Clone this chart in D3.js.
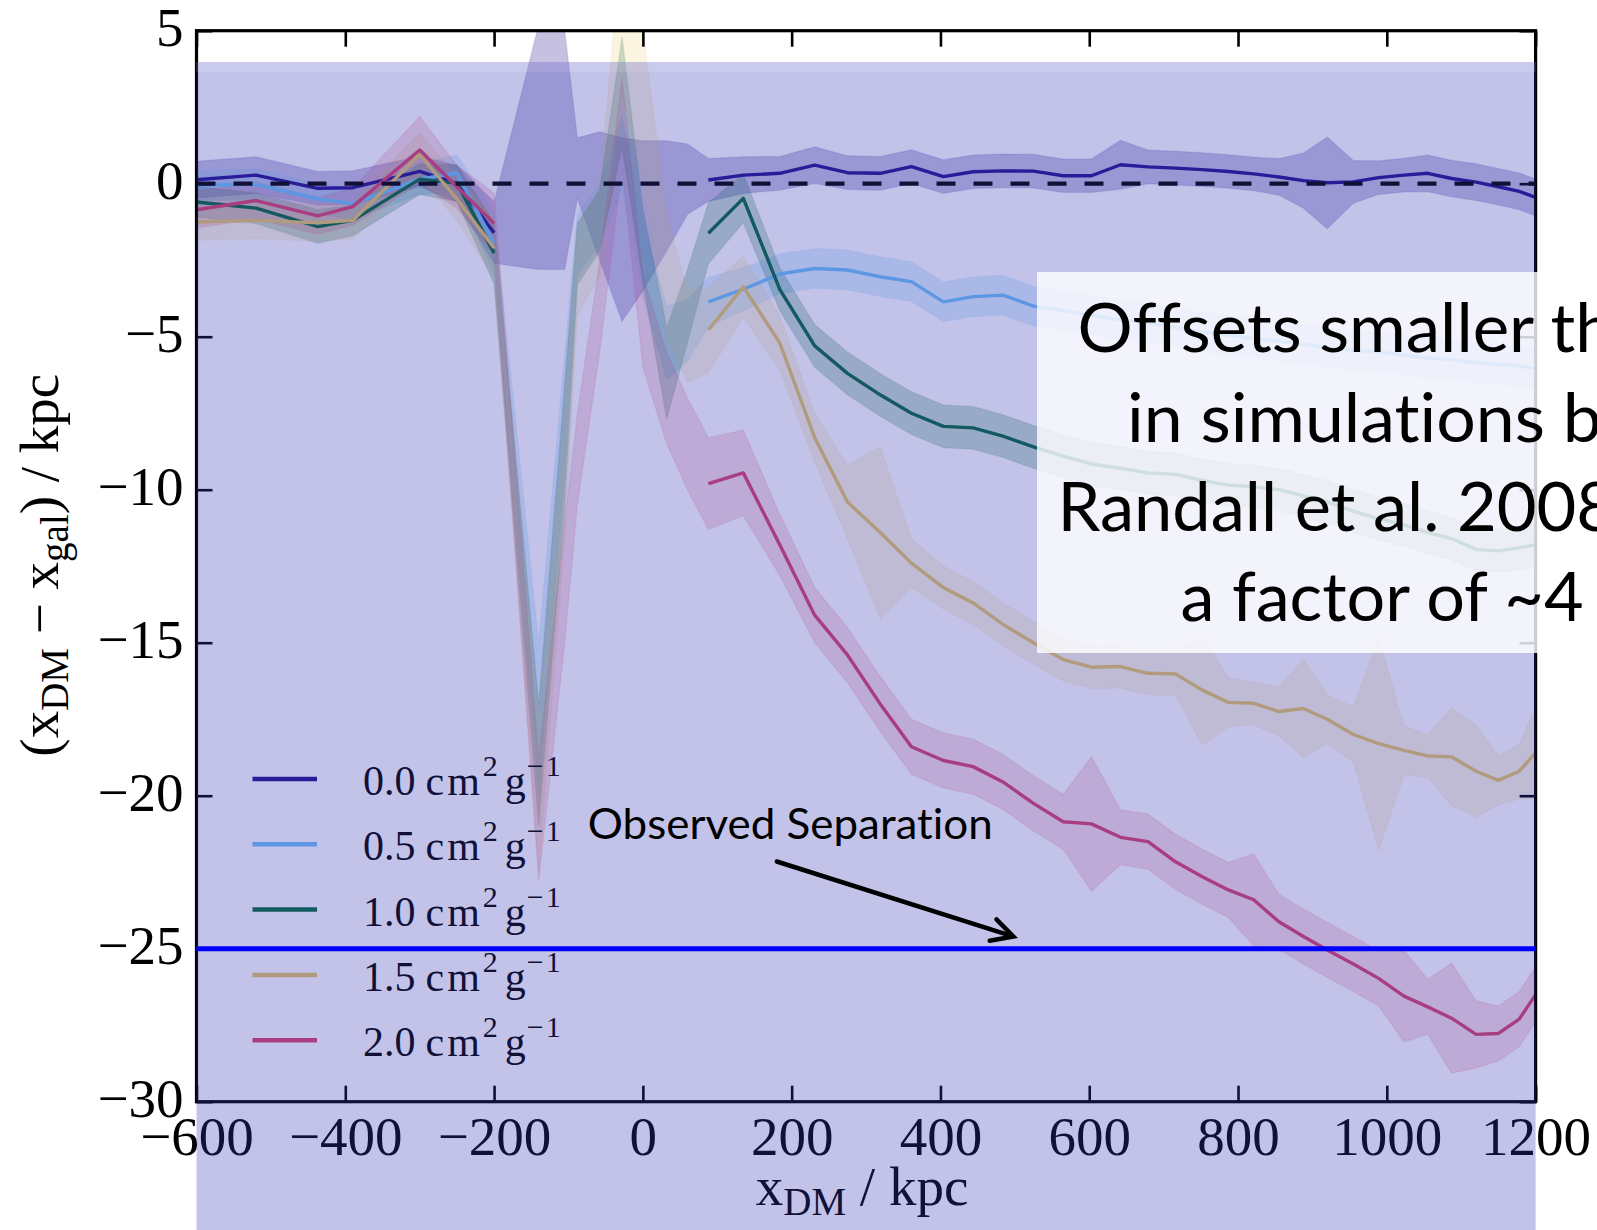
<!DOCTYPE html>
<html>
<head>
<meta charset="utf-8">
<script src="https://cdn.jsdelivr.net/npm/d3@7"></script>
<style>
  html, body { margin: 0; padding: 0; background: #fff; }
  svg { display: block; }
  text { font-variant-ligatures: none; font-feature-settings: "liga" 0, "clig" 0; }
</style>
</head>
<body>
<svg id="chart" width="1597" height="1230"></svg>
<script>
// ---------------------------------------------------------------
// Offset between dark matter and galaxy centroids vs. DM position
// ---------------------------------------------------------------

// DM position of each snapshot (kpc)
const xDM = [-600, -520, -437, -390, -300, -250, -200,
             -140, -105, -88, -58, -28, 0, 32, 60,
             88, 135, 184, 231, 275, 319, 361, 404, 444, 484,
             525, 565, 603, 642, 679, 716, 752, 787, 821, 855,
             888, 920, 955, 989, 1023, 1055, 1087, 1120, 1150, 1178, 1200];

// centre lines are not drawn between these two positions (only the bands)
const lineGap = [-200, 88];

const crossSections = ["0.0", "0.5", "1.0", "1.5", "2.0"];

// mean offset (kpc) for each cross-section
const offset00 = [0.13, 0.28, -0.15, -0.13, 0.4, 0.0, -1.6,
  1.2, 1.1, 0.5, -0.4, -1.5, -1.05, -0.4, 0.15,
  0.12, 0.28, 0.34, 0.61, 0.36, 0.34, 0.56, 0.23, 0.39, 0.42,
  0.41, 0.26, 0.26, 0.62, 0.55, 0.51, 0.46, 0.40, 0.32, 0.22,
  0.10, 0.03, 0.06, 0.20, 0.28, 0.34, 0.17, 0.05, -0.10, -0.25, -0.45];
const offset05 = [-0.05, -0.02, -0.5, -0.65, 0.15, 0.35, -1.95,
  -17.5, -7.5, -2.0, -1.0, 1.0, -2.5, -5.2, -4.8,
  -3.86, -3.45, -2.95, -2.77, -2.82, -3.04, -3.2, -3.86, -3.69, -3.64,
  -4.0, -4.15, -4.3, -4.45, -4.55, -4.7, -4.85, -4.95, -5.05, -5.15,
  -5.25, -5.35, -5.45, -5.5, -5.6, -5.7, -5.75, -5.85, -5.9, -5.95, -6.05];
const offset10 = [-0.6, -0.8, -1.4, -1.2, 0.15, 0.02, -2.27,
  -19.0, -8.5, -2.3, -1.2, 3.0, -2.0, -6.2, -4.0,
  -1.62, -0.48, -3.45, -5.3, -6.2, -6.9, -7.5, -7.93, -7.98, -8.25,
  -8.6, -8.9, -9.16, -9.3, -9.45, -9.5, -9.7, -9.85, -9.9, -10.0,
  -10.2, -10.4, -10.7, -10.95, -11.15, -11.4, -11.6, -11.95, -12.0, -11.9, -11.8];
const offset15 = [-1.25, -1.2, -1.28, -1.2, 0.95, -0.5, -2.1,
  -20.0, -9.5, -2.8, -1.5, 5.5, 2.5, -3.0, -5.0,
  -4.78, -3.37, -5.2, -8.3, -10.4, -11.4, -12.4, -13.2, -13.7, -14.4,
  -15.0, -15.55, -15.8, -15.78, -16.0, -16.02, -16.55, -16.95, -16.98, -17.25,
  -17.15, -17.5, -18.0, -18.3, -18.52, -18.7, -18.73, -19.2, -19.5, -19.2, -18.6];
const offset20 = [-0.85, -0.55, -1.05, -0.75, 1.1, -0.1, -1.3,
  -20.8, -13.0, -9.0, -4.0, 2.0, -4.5, -7.0, -8.5,
  -9.8, -9.45, -11.8, -14.1, -15.4, -17.0, -18.4, -18.85, -19.05, -19.55,
  -20.25, -20.85, -20.92, -21.36, -21.5, -22.16, -22.65, -23.08, -23.4, -24.12,
  -24.6, -25.04, -25.5, -25.97, -26.55, -26.9, -27.27, -27.8, -27.77, -27.3, -26.5];

// half-width of the scatter band (kpc)
const spread00 = [0.6, 0.6, 0.55, 0.55, 0.5, 0.6, 1.0,
  4.0, 3.9, 1.0, 2.1, 3.0, 2.45, 1.8, 1.15,
  0.7, 0.6, 0.55, 0.6, 0.55, 0.55, 0.55, 0.55, 0.55, 0.55,
  0.55, 0.55, 0.55, 0.8, 0.55, 0.55, 0.55, 0.55, 0.55, 0.6,
  0.9, 1.5, 0.7, 0.55, 0.55, 0.6, 0.6, 0.6, 0.6, 0.6, 0.6];
const spread05 = [0.5, 0.5, 0.5, 0.5, 0.5, 0.6, 1.0,
  2.5, 2.0, 1.0, 1.0, 1.2, 1.2, 1.2, 1.0,
  0.8, 0.7, 0.65, 0.65, 0.65, 0.65, 0.65, 0.65, 0.65, 0.65,
  0.65, 0.65, 0.65, 0.65, 0.65, 0.65, 0.65, 0.65, 0.65, 0.65,
  0.65, 0.65, 0.65, 0.65, 0.65, 0.65, 0.65, 0.65, 0.65, 0.65, 0.65];
const spread10 = [0.5, 0.5, 0.55, 0.5, 0.5, 0.6, 1.0,
  2.0, 2.0, 1.0, 1.0, 1.8, 1.2, 1.5, 1.2,
  1.0, 0.8, 0.7, 0.7, 0.7, 0.7, 0.7, 0.7, 0.7, 0.7,
  0.7, 0.7, 0.7, 0.7, 0.7, 0.7, 0.7, 0.7, 0.7, 0.7,
  0.7, 0.7, 0.7, 0.7, 0.7, 0.7, 0.7, 0.7, 0.7, 0.7, 0.7];
const spread15 = [0.6, 0.6, 0.6, 0.6, 0.7, 0.7, 1.0,
  2.5, 2.0, 1.5, 1.5, 2.5, 2.5, 2.0, 1.5,
  1.4, 1.0, 0.9, 0.8, 1.2, 2.8, 0.8, 0.7, 0.7, 0.7,
  0.7, 0.7, 0.7, 0.7, 0.7, 0.7, 1.8, 0.8, 0.7, 0.8,
  1.6, 0.8, 0.9, 3.5, 0.8, 0.7, 1.6, 1.5, 0.8, 0.9, 1.5];
const spread20 = [0.6, 0.6, 0.6, 0.6, 1.1, 0.7, 1.0,
  2.0, 2.0, 1.5, 1.5, 1.5, 1.5, 1.5, 1.5,
  1.5, 1.4, 1.0, 0.9, 0.9, 0.9, 0.9, 0.9, 0.9, 0.9,
  0.9, 0.9, 2.2, 0.9, 0.9, 0.9, 0.9, 0.9, 1.5, 0.9,
  0.9, 0.9, 0.9, 0.9, 1.5, 0.9, 1.8, 1.1, 0.9, 0.9, 0.9];

const lineColors = ["#22108c", "#6ec0f5", "#04683a", "#e6c665", "#d8406a"];
const bandOpacity = [0.26, 0.24, 0.24, 0.2, 0.19];

const xTicks = [-600, -400, -200, 0, 200, 400, 600, 800, 1000, 1200];
const yTicks = [5, 0, -5, -10, -15, -20, -25, -30];

const observedSeparation = -25;

const noteLines = ["Offsets smaller than", "in simulations by", "Randall et al. 2008 by", "a factor of ~4"];

// ---------------------------------------------------------------
const W = 1597, H = 1230;
const frame = { left: 196.5, right: 1535.6, top: 30.7, bottom: 1101.7 };
const serif = "'Liberation Serif', 'Times New Roman', serif";
const sans = "Lato, 'Open Sans', sans-serif";

const x = d3.scaleLinear().domain([-600, 1200]).range([frame.left, frame.right]);
const y = d3.scaleLinear().domain([-30, 5]).range([frame.bottom, frame.top]);

const svg = d3.select("#chart");
svg.append("rect").attr("width", W).attr("height", H).attr("fill", "#fff");

const defs = svg.append("defs");
defs.append("clipPath").attr("id", "plotClip")
  .append("rect")
  .attr("x", frame.left).attr("y", frame.top)
  .attr("width", frame.right - frame.left).attr("height", frame.bottom - frame.top);

const fig = svg.append("g");
const plot = fig.append("g").attr("clip-path", "url(#plotClip)");

const offsets = [offset00, offset05, offset10, offset15, offset20];
const spreads = [spread00, spread05, spread10, spread15, spread20];
const series = crossSections.map((label, k) => ({
  label,
  color: lineColors[k],
  alpha: bandOpacity[k],
  pts: xDM.map((xv, i) => ({ x: xv, v: offsets[k][i], e: spreads[k][i] }))
}));

// scatter bands
const band = d3.area()
  .x(d => x(d.x))
  .y0(d => y(d.v - d.e))
  .y1(d => y(d.v + d.e));
series.forEach(s => {
  plot.append("path").datum(s.pts)
    .attr("d", band)
    .attr("fill", s.color)
    .attr("fill-opacity", s.alpha)
    .attr("stroke", s.color)
    .attr("stroke-opacity", 0.1)
    .attr("stroke-width", 1.5);
});

// centre lines
const line = d3.line()
  .defined(d => d.x <= lineGap[0] || d.x >= lineGap[1])
  .x(d => x(d.x))
  .y(d => y(d.v));
series.forEach(s => {
  plot.append("path").datum(s.pts)
    .attr("d", line)
    .attr("fill", "none")
    .attr("stroke", s.color)
    .attr("stroke-width", 3.4)
    .attr("stroke-linejoin", "round");
});

// zero-offset reference
plot.append("line")
  .attr("x1", x(-600)).attr("x2", x(1200))
  .attr("y1", y(0)).attr("y2", y(0))
  .attr("stroke", "#000").attr("stroke-width", 4.2)
  .attr("stroke-dasharray", "19,18");

// axes (ticks pointing inward on all four sides)
const tickLen = 16;
function styleAxis(g) {
  g.select(".domain").remove();
  g.selectAll(".tick line").attr("stroke", "#000").attr("stroke-width", 2.6);
}
const fmt = d3.format("d");

const gx = fig.append("g").attr("transform", `translate(0,${frame.bottom})`)
  .call(d3.axisBottom(x).tickValues(xTicks).tickSizeInner(-tickLen).tickSizeOuter(0).tickFormat(fmt));
styleAxis(gx);
gx.selectAll(".tick text")
  .attr("y", 53).attr("dy", null)
  .attr("font-family", serif).attr("font-size", 55).attr("fill", "#000");

const gxTop = fig.append("g").attr("transform", `translate(0,${frame.top})`)
  .call(d3.axisTop(x).tickValues(xTicks).tickSizeInner(-tickLen).tickSizeOuter(0).tickFormat(""));
styleAxis(gxTop);

const gy = fig.append("g").attr("transform", `translate(${frame.left},0)`)
  .call(d3.axisLeft(y).tickValues(yTicks).tickSizeInner(-tickLen).tickSizeOuter(0).tickFormat(fmt));
styleAxis(gy);
gy.selectAll(".tick text")
  .attr("x", -13).attr("y", 15).attr("dy", null)
  .attr("font-family", serif).attr("font-size", 55).attr("fill", "#000");

const gyRight = fig.append("g").attr("transform", `translate(${frame.right},0)`)
  .call(d3.axisRight(y).tickValues(yTicks).tickSizeInner(-tickLen).tickSizeOuter(0).tickFormat(""));
styleAxis(gyRight);

fig.append("rect")
  .attr("x", frame.left).attr("y", frame.top)
  .attr("width", frame.right - frame.left).attr("height", frame.bottom - frame.top)
  .attr("fill", "none").attr("stroke", "#000").attr("stroke-width", 3.2);

// axis titles
const xTitle = fig.append("text")
  .attr("x", (frame.left + frame.right) / 2 - 4).attr("y", 1205)
  .attr("text-anchor", "middle")
  .attr("font-family", serif).attr("font-size", 55).attr("fill", "#000");
xTitle.append("tspan").text("x");
xTitle.append("tspan").attr("font-size", 39).attr("dy", 10).text("DM");
xTitle.append("tspan").attr("dy", -10).text(" / kpc");

const yTitle = fig.append("text")
  .attr("transform", `translate(58,${(frame.top + frame.bottom) / 2 - 1}) rotate(-90)`)
  .attr("text-anchor", "middle")
  .attr("font-family", serif).attr("font-size", 55).attr("fill", "#000");
yTitle.append("tspan").text("(x");
yTitle.append("tspan").attr("font-size", 39).attr("dy", 10).text("DM");
yTitle.append("tspan").attr("dy", -10).text(" − x");
yTitle.append("tspan").attr("font-size", 39).attr("dy", 10).text("gal");
yTitle.append("tspan").attr("dy", -10).text(") / kpc");

// legend
const legend = fig.append("g");
series.forEach((s, i) => {
  const ly = 779 + i * 65.3;
  legend.append("line")
    .attr("x1", 252.5).attr("x2", 317).attr("y1", ly).attr("y2", ly)
    .attr("stroke", s.color).attr("stroke-width", 4.5);
  const t = legend.append("text")
    .attr("x", 363).attr("y", ly + 16)
    .attr("font-family", serif).attr("font-size", 42).attr("fill", "#000");
  t.append("tspan").text(s.label);
  t.append("tspan").attr("dx", 10).attr("letter-spacing", 3).text("cm");
  t.append("tspan").attr("font-size", 30).attr("dx", 0).attr("dy", -19).text("2");
  t.append("tspan").attr("dx", 7).attr("dy", 19).text("g");
  t.append("tspan").attr("font-size", 30).attr("dx", 1).attr("dy", -19).attr("letter-spacing", 2).text("−1");
});

// translucent lavender wash laid over the figure
svg.append("rect")
  .attr("x", frame.left).attr("y", 62)
  .attr("width", frame.right - frame.left).attr("height", H - 62)
  .attr("fill", "rgb(55,55,185)").attr("fill-opacity", 0.3);
svg.append("rect")
  .attr("x", frame.left).attr("y", 62)
  .attr("width", frame.right - frame.left).attr("height", 10)
  .attr("fill", "#fff").attr("fill-opacity", 0.12);

// annotations on top
const notes = svg.append("g");
notes.append("line")
  .attr("x1", x(-600)).attr("x2", x(1200))
  .attr("y1", y(observedSeparation)).attr("y2", y(observedSeparation))
  .attr("stroke", "#0000ff").attr("stroke-width", 5);

notes.append("text")
  .attr("x", x(-74)).attr("y", y(-21.4))
  .attr("font-family", sans).attr("font-size", 43).attr("fill", "#000")
  .attr("textLength", 405).attr("lengthAdjust", "spacingAndGlyphs")
  .text("Observed Separation");

// arrow pointing at the observed separation line
const tail = [x(180), y(-22.15)], tip = [x(498), y(-24.6)];
const ang = Math.atan2(tip[1] - tail[1], tip[0] - tail[0]);
const headLen = 24, headAng = Math.PI / 6.5;
const arm1 = [tip[0] - headLen * Math.cos(ang - headAng), tip[1] - headLen * Math.sin(ang - headAng)];
const arm2 = [tip[0] - headLen * Math.cos(ang + headAng), tip[1] - headLen * Math.sin(ang + headAng)];
notes.append("line")
  .attr("x1", tail[0]).attr("y1", tail[1]).attr("x2", tip[0] - 2).attr("y2", tip[1] - 0.6)
  .attr("stroke", "#000").attr("stroke-width", 4.5).attr("stroke-linecap", "round");
notes.append("path")
  .attr("d", d3.line()([arm1, tip, arm2]))
  .attr("fill", "none").attr("stroke", "#000").attr("stroke-width", 4.5)
  .attr("stroke-linecap", "round").attr("stroke-linejoin", "miter");

// comment box
notes.append("rect")
  .attr("x", 1037).attr("y", 272).attr("width", 600).attr("height", 381)
  .attr("fill", "#fff").attr("fill-opacity", 0.8);
const noteWidths = [609, 510, 649, 403];
noteLines.forEach((s, i) => {
  notes.append("text")
    .attr("x", 1382).attr("y", 352 + i * 89.7)
    .attr("text-anchor", "middle")
    .attr("font-family", sans).attr("font-size", 67).attr("fill", "#000")
    .attr("textLength", noteWidths[i]).attr("lengthAdjust", "spacingAndGlyphs")
    .text(s);
});
</script>
</body>
</html>
